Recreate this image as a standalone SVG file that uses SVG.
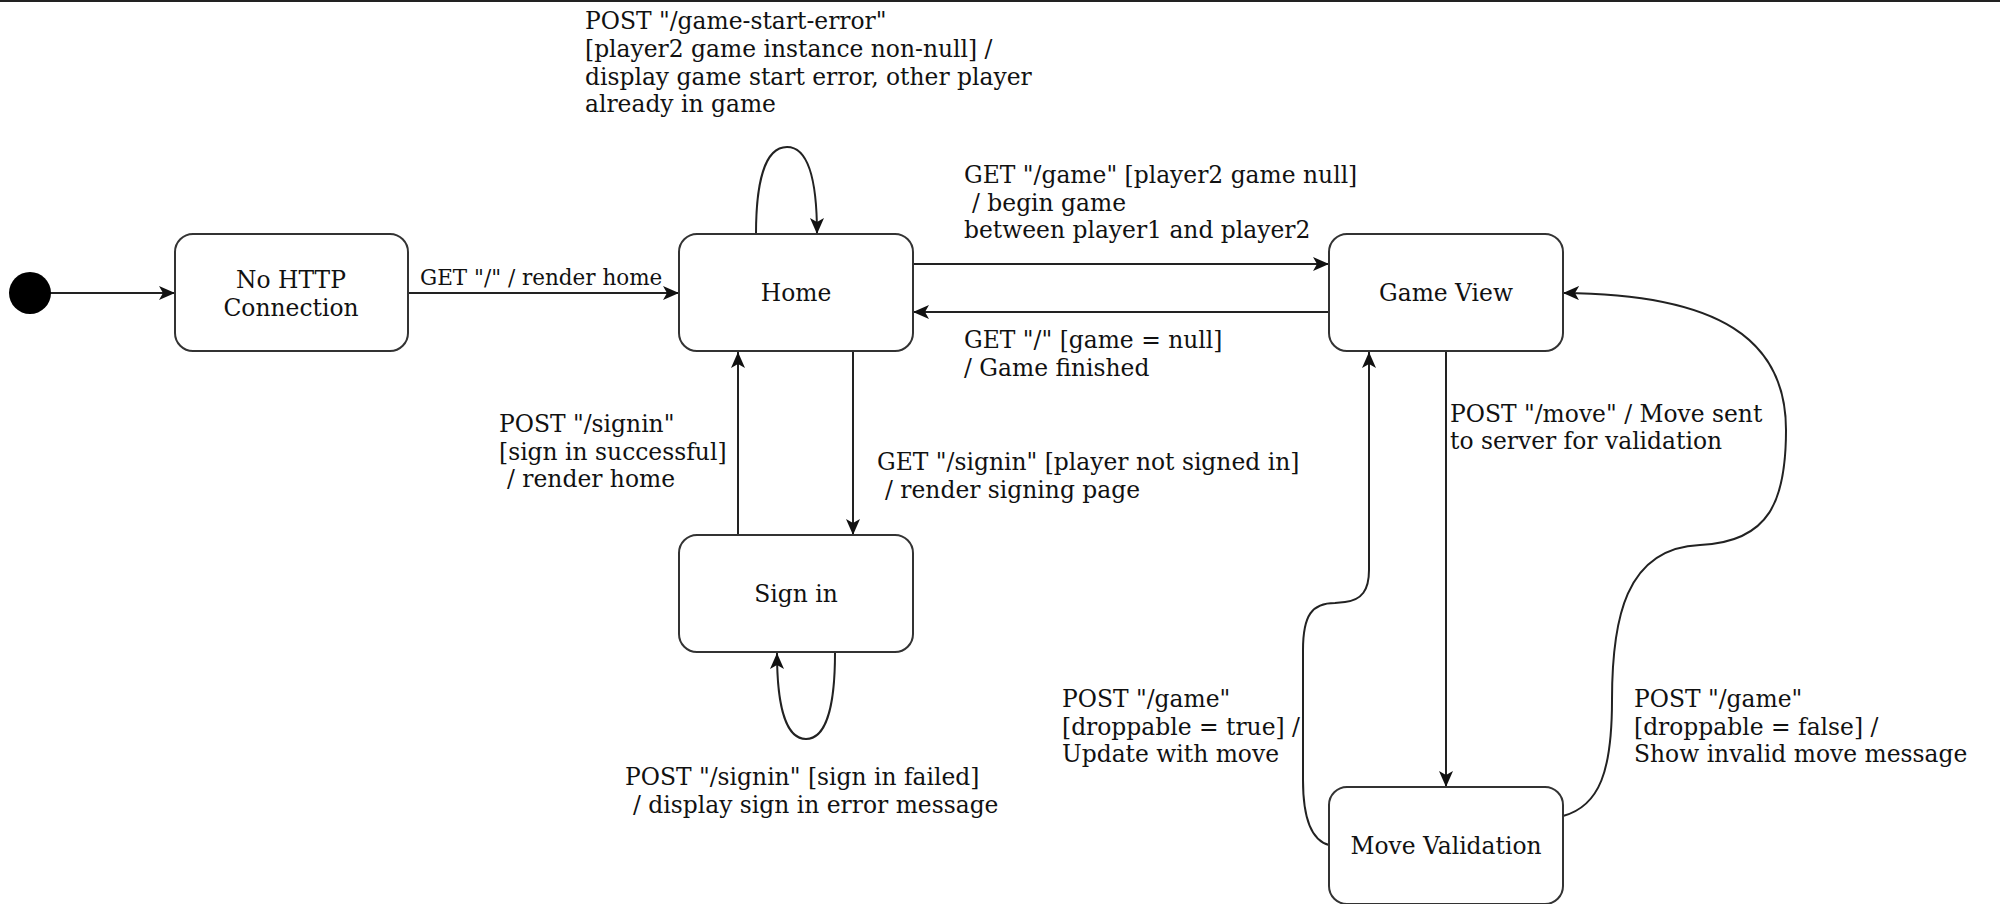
<svg xmlns="http://www.w3.org/2000/svg" width="2000" height="904" viewBox="0 0 2000 904">
<style>
.n{fill:#fff;stroke:#333;stroke-width:2}
.e{fill:none;stroke:#222;stroke-width:2}
.t{font-family:"DejaVu Serif","Liberation Serif",serif;font-size:23.4px;fill:#111}
.s{font-family:"DejaVu Serif","Liberation Serif",serif;font-size:21.5px;fill:#111}
.c{text-anchor:middle}
</style>
<defs>
<marker id="a" markerUnits="userSpaceOnUse" markerWidth="16" markerHeight="14" refX="16" refY="7" orient="auto" viewBox="0 0 16 14">
<path d="M0,0 L16,7 L0,14 L4,7 z" fill="#111"/>
</marker>
</defs>
<rect x="0" y="0" width="2000" height="2" fill="#222"/>
<g id="connectors">
<line class="e" x1="50" y1="293" x2="175" y2="293" marker-end="url(#a)"/>
<line class="e" x1="408" y1="293" x2="679" y2="293" marker-end="url(#a)"/>
<path class="e" d="M756,234 C756,185 764,147 787,147 C810,147 817,185 817,234" marker-end="url(#a)"/>
<line class="e" x1="913" y1="264" x2="1329" y2="264" marker-end="url(#a)"/>
<line class="e" x1="1329" y1="312" x2="913" y2="312" marker-end="url(#a)"/>
<line class="e" x1="853" y1="352" x2="853" y2="535" marker-end="url(#a)"/>
<line class="e" x1="738" y1="535" x2="738" y2="352" marker-end="url(#a)"/>
<path class="e" d="M835,653 C835,700 828,739 806,739 C784,739 777,700 777,653" marker-end="url(#a)"/>
<line class="e" x1="1446" y1="352" x2="1446" y2="787" marker-end="url(#a)"/>
<path class="e" d="M1329,845 C1310,840 1303,815 1303,780 L1303,650 C1303,615 1312,603 1335,603 L1345,602 C1362,600 1369,590 1369,570 L1369,352" marker-end="url(#a)"/>
<path class="e" d="M1563,816 C1600,806 1612,770 1612,700 C1612,620 1625,548 1700,545 C1770,542 1786,500 1786,430 C1786,340 1720,294 1563,293" marker-end="url(#a)"/>
</g>
<g id="initial"><circle cx="30" cy="293" r="21" fill="#000"/></g>
<g id="no-http"><rect class="n" x="175" y="234" width="233" height="117" rx="18"/><text class="t c" x="291" y="288">No HTTP</text><text class="t c" x="291" y="316">Connection</text></g>
<g id="home"><rect class="n" x="679" y="234" width="234" height="117" rx="18"/><text class="t c" x="796" y="301">Home</text></g>
<g id="game-view"><rect class="n" x="1329" y="234" width="234" height="117" rx="18"/><text class="t c" x="1446" y="301">Game View</text></g>
<g id="sign-in"><rect class="n" x="679" y="535" width="234" height="117" rx="18"/><text class="t c" x="796" y="602">Sign in</text></g>
<g id="move-validation"><rect class="n" x="1329" y="787" width="234" height="117" rx="18"/><text class="t c" x="1446" y="854">Move Validation</text></g>
<g id="labels">
<text class="s" x="420" y="285">GET "/" / render home</text>
<text class="t" x="585" y="29">POST "/game-start-error"</text>
<text class="t" x="585" y="57">[player2 game instance non-null] /</text>
<text class="t" x="585" y="85">display game start error, other player</text>
<text class="t" x="585" y="112">already in game</text>
<text class="t" x="964" y="183">GET "/game" [player2 game null]</text>
<text class="t" x="972" y="211">/ begin game</text>
<text class="t" x="964" y="238">between player1 and player2</text>
<text class="t" x="964" y="348">GET "/" [game = null]</text>
<text class="t" x="964" y="376">/ Game finished</text>
<text class="t" x="877" y="470">GET "/signin" [player not signed in]</text>
<text class="t" x="885" y="498">/ render signing page</text>
<text class="t" x="499" y="432">POST "/signin"</text>
<text class="t" x="499" y="460">[sign in successful]</text>
<text class="t" x="507" y="487">/ render home</text>
<text class="t" x="625" y="785">POST "/signin" [sign in failed]</text>
<text class="t" x="633" y="813">/ display sign in error message</text>
<text class="t" x="1450" y="422">POST "/move" / Move sent</text>
<text class="t" x="1450" y="449">to server for validation</text>
<text class="t" x="1062" y="707">POST "/game"</text>
<text class="t" x="1062" y="735">[droppable = true] /</text>
<text class="t" x="1062" y="762">Update with move</text>
<text class="t" x="1634" y="707">POST "/game"</text>
<text class="t" x="1634" y="735">[droppable = false] /</text>
<text class="t" x="1634" y="762">Show invalid move message</text>
</g>
</svg>
